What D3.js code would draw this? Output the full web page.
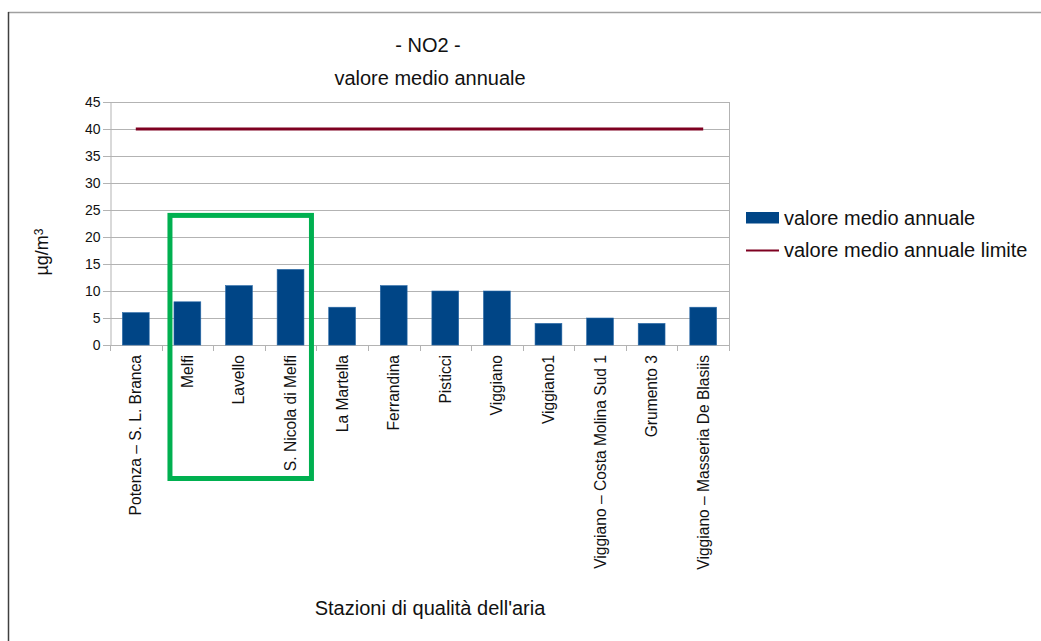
<!DOCTYPE html>
<html>
<head>
<meta charset="utf-8">
<script src="https://cdn.jsdelivr.net/npm/d3@7"></script>
<style>
  html, body { margin: 0; padding: 0; background: #fff; }
  svg { display: block; font-family: "Liberation Sans", Arial, sans-serif; }
</style>
</head>
<body>
<svg id="chart" width="1041" height="641"></svg>
<script>
// Stazioni di monitoraggio e valori medi annui di NO2 (µg/m³)
const categories = [
  "Potenza – S. L. Branca", "Melfi", "Lavello", "S. Nicola di Melfi",
  "La Martella", "Ferrandina", "Pisticci", "Viggiano", "Viggiano1",
  "Viggiano – Costa Molina Sud 1", "Grumento 3", "Viggiano – Masseria De Blasiis"
];
const annualMean = [6, 8, 11, 14, 7, 11, 10, 10, 4, 5, 4, 7];
const annualLimit = [40, 40, 40, 40, 40, 40, 40, 40, 40, 40, 40, 40];
const yTicks = [0, 5, 10, 15, 20, 25, 30, 35, 40, 45];
const highlighted = ["Melfi", "Lavello", "S. Nicola di Melfi"];
const seriesNames = ["valore medio annuale", "valore medio annuale limite"];

const svg = d3.select("#chart");
const plot = { left: 110, right: 729, top: 102, bottom: 345 };

const x = d3.scaleBand()
  .domain(categories)
  .range([plot.left, plot.right])
  .paddingInner(0.48)
  .paddingOuter(0.24);
const step = x.step();
const y = d3.scaleLinear().domain([0, 45]).range([plot.bottom, plot.top]);

// cornice
svg.append("line").attr("x1", 8).attr("x2", 1041).attr("y1", 12.5).attr("y2", 12.5)
  .attr("stroke", "#a0a0a0").attr("stroke-width", 1.5);
svg.append("line").attr("x1", 8.5).attr("x2", 8.5).attr("y1", 12).attr("y2", 641)
  .attr("stroke", "#404040").attr("stroke-width", 1.5);

// griglia orizzontale
svg.append("g").selectAll("line").data(yTicks).join("line")
  .attr("x1", plot.left - 7).attr("x2", plot.right)
  .attr("y1", d => Math.round(y(d)) + 0.5).attr("y2", d => Math.round(y(d)) + 0.5)
  .attr("stroke", "#b3b3b3").attr("stroke-width", 1);

// bordo destro area grafico
svg.append("line").attr("x1", plot.right + 0.5).attr("x2", plot.right + 0.5)
  .attr("y1", y(45)).attr("y2", y(0) + 5)
  .attr("stroke", "#b3b3b3");

// asse Y
const yAxis = d3.axisLeft(y).tickValues(yTicks).tickSize(0).tickPadding(10);
const gy = svg.append("g").attr("transform", `translate(${plot.left + 0.5},0)`).call(yAxis);
gy.select(".domain").attr("stroke", "#b3b3b3");
gy.selectAll("text").attr("font-size", 14).attr("fill", "#111")
  .attr("font-family", "Liberation Sans, Arial, sans-serif");

// tacche asse X ai confini delle categorie
svg.append("g").selectAll("line").data(d3.range(categories.length + 1)).join("line")
  .attr("x1", i => Math.round(plot.left + i * step) + 0.5)
  .attr("x2", i => Math.round(plot.left + i * step) + 0.5)
  .attr("y1", plot.bottom).attr("y2", plot.bottom + 6)
  .attr("stroke", "#b3b3b3");

// barre
svg.append("g").selectAll("rect").data(categories).join("rect")
  .attr("x", d => x(d))
  .attr("y", (d, i) => y(annualMean[i]))
  .attr("width", x.bandwidth())
  .attr("height", (d, i) => y(0) - y(annualMean[i]))
  .attr("fill", "#004586")
  .attr("stroke", "#2a6aa8").attr("stroke-width", 0.6);

// linea del limite
const line = d3.line()
  .x((d, i) => x(categories[i]) + x.bandwidth() / 2)
  .y(d => y(d));
svg.append("path").datum(annualLimit)
  .attr("d", line)
  .attr("fill", "none")
  .attr("stroke", "#7e0021")
  .attr("stroke-width", 3);

// etichette categorie
svg.append("g").selectAll("text").data(categories).join("text")
  .attr("transform", d => `translate(${x(d) + x.bandwidth() / 2},355) rotate(-90)`)
  .attr("text-anchor", "end")
  .attr("dy", "0.35em")
  .attr("font-size", 15.6)
  .attr("fill", "#111")
  .text(d => d);

// riquadro evidenziato attorno alle stazioni dell'area di Melfi
const hFirst = highlighted[0], hLast = highlighted[highlighted.length - 1];
const boxLeft = x(hFirst) - 4;
const boxRight = x(hLast) + x.bandwidth() + 7.5;
svg.append("rect")
  .attr("x", boxLeft)
  .attr("y", y(24))
  .attr("width", boxRight - boxLeft)
  .attr("height", 478.5 - y(24))
  .attr("fill", "none")
  .attr("stroke", "#00b050")
  .attr("stroke-width", 5);

// titoli
svg.append("text").attr("x", 428).attr("y", 52).attr("text-anchor", "middle")
  .attr("font-size", 20).attr("fill", "#111").text("- NO2 -");
svg.append("text").attr("x", 430).attr("y", 85).attr("text-anchor", "middle")
  .attr("font-size", 20).attr("fill", "#111").text("valore medio annuale");
svg.append("text").attr("x", 430).attr("y", 615).attr("text-anchor", "middle")
  .attr("font-size", 20).attr("fill", "#111").text("Stazioni di qualità dell'aria");

// titolo asse Y
const yt = svg.append("text")
  .attr("transform", "translate(48,252) rotate(-90)")
  .attr("text-anchor", "middle")
  .attr("font-size", 18).attr("fill", "#111");
yt.append("tspan").text("µg/m");
yt.append("tspan").attr("dy", "-0.45em").attr("font-size", 12).text("3");

// legenda
const lg = svg.append("g");
lg.append("rect").attr("x", 746).attr("y", 212).attr("width", 33).attr("height", 11.5)
  .attr("fill", "#004586");
lg.append("text").attr("x", 784).attr("y", 225).attr("font-size", 20).attr("fill", "#111")
  .text(seriesNames[0]);
lg.append("line").attr("x1", 746).attr("x2", 779).attr("y1", 250.5).attr("y2", 250.5)
  .attr("stroke", "#7e0021").attr("stroke-width", 2);
lg.append("text").attr("x", 784).attr("y", 257).attr("font-size", 20).attr("fill", "#111")
  .text(seriesNames[1]);
</script>
</body>
</html>
